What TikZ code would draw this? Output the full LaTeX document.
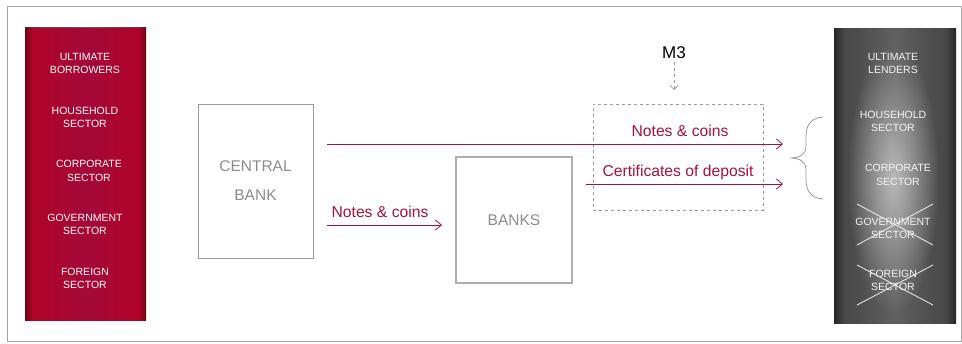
\documentclass[tikz,border=0pt]{standalone}
\usepackage{fontspec}
\setmainfont{Liberation Sans}
\usetikzlibrary{arrows.meta,fadings}
\definecolor{frameGray}{HTML}{A6A6A6}
\definecolor{boxGray}{HTML}{9A9A9A}
\definecolor{boxText}{HTML}{8C8C8C}
\definecolor{crim}{HTML}{A4123C}
\definecolor{rEdge}{HTML}{6E0516}
\definecolor{rMain}{HTML}{B00328}
\definecolor{rMid}{HTML}{A40838}
\definecolor{gEdge}{HTML}{262626}
\definecolor{gMain}{HTML}{474747}
\definecolor{gMid}{HTML}{606060}
\tikzfading[name=myfadeout, inner color=transparent!0, outer color=transparent!100]
\pgfdeclarehorizontalshading{redpanel}{100bp}{color(0bp)=(rEdge); color(25bp)=(rEdge); color(28bp)=(rMain); color(50bp)=(rMid); color(72bp)=(rMain); color(75bp)=(rEdge); color(100bp)=(rEdge)}
\pgfdeclarehorizontalshading{graypanel}{100bp}{color(0bp)=(gEdge); color(25bp)=(gEdge); color(29bp)=(gMain); color(50bp)=(gMid); color(71bp)=(gMain); color(75bp)=(gEdge); color(100bp)=(gEdge)}
\tikzset{
  paneltext/.style={text=white, align=center, font=\fontsize{10.5}{13.5}\selectfont, inner sep=0pt},
  lpaneltext/.style={text=white!92!gray, align=center, font=\fontsize{10.5}{13.5}\selectfont, inner sep=0pt},
  bankbox/.style={draw=boxGray, line width=0.9pt, text=boxText, align=center, font=\fontsize{15.5}{29}\selectfont},
  flowlbl/.style={text=crim, font=\fontsize{15.7}{18}\selectfont, inner sep=0pt},
  flow/.style={draw=crim, line width=0.8pt, -{Straight Barb[length=6pt,width=10pt]}},
  crossline/.style={draw=white!88!gray, line width=0.8pt},
}
\begin{document}
\begin{tikzpicture}[x=1pt,y=-1pt]
\useasboundingbox (0,0) rectangle (962,343);
% outer frame
\draw[frameGray, line width=0.9pt] (7,6) rectangle (961,341);

% left red panel
\shade[shading=graypanel] (25,27) rectangle (146,29);
\shade[shading=redpanel] (25,28) rectangle (146,320);
\node[paneltext] (ub) at (85,63.5) {ULTIMATE\\BORROWERS};
\node[paneltext] (bh) at (85,117.5) {HOUSEHOLD\\SECTOR};
\node[paneltext] (bc) at (89,171) {CORPORATE\\SECTOR};
\node[paneltext] (bg) at (85,224.5) {GOVERNMENT\\SECTOR};
\node[paneltext] (bf) at (85,278.5) {FOREIGN\\SECTOR};

% right gray panel
\shade[shading=graypanel] (834,28) rectangle (956,323);
\begin{scope}
\clip (834,28) rectangle (956,323);
\fill[white!45!gray, path fading=myfadeout] (893,178) ellipse (46 and 135);
\end{scope}
\node[lpaneltext] (ul) at (893,63.5) {ULTIMATE\\LENDERS};
\node[lpaneltext] (lh) at (893,121.5) {HOUSEHOLD\\SECTOR};
\node[lpaneltext] (lc) at (898,175) {CORPORATE\\SECTOR};
\node[lpaneltext] (lg) at (893,228.5) {GOVERNMENT\\SECTOR};
\node[lpaneltext] (lf) at (893,280.5) {FOREIGN\\SECTOR};
\draw[crossline] (857,204) -- (933,245);
\draw[crossline] (857,245) -- (933,204);
\draw[crossline] (857,265) -- (933,305);
\draw[crossline] (857,305) -- (933,265);

% boxes
\node[bankbox, minimum width=115pt, minimum height=154pt] (cb) at (255.5,181) {CENTRAL\\BANK};
\node[bankbox, draw=boxGray!80, line width=1.2pt, minimum width=116pt, minimum height=126pt] (banks) at (514,220) {BANKS};
\node[draw=boxGray, dashed, line width=0.8pt, minimum width=170pt, minimum height=106pt, inner sep=0pt] (m3box) at (678,157) {};

% M3
\node[font=\fontsize{17}{19}\selectfont, inner sep=0pt] (m3) at (674,53) {M3};
\coordinate (m3tip) at (674,90);
\draw[boxGray, dashed, line width=0.8pt, -{Straight Barb[length=4pt,width=8pt]}] (m3.south) ++(0,3) -- (m3tip);

% flows
\coordinate (a1s) at (327,144);
\coordinate (a1e) at (783,144);
\coordinate (a2s) at (586,184);
\coordinate (a2e) at (783,184);
\coordinate (a3s) at (327,225);
\coordinate (a3e) at (442,225);
\draw[flow] (a1s) -- (a1e);
\draw[flow] (a2s) -- (a2e);
\draw[flow] (a3s) -- (a3e);
\node[flowlbl] (l1) at (680,131) {Notes \& coins};
\node[flowlbl] (l2) at (678,172) {Certificates of deposit};
\node[flowlbl] (l3) at (380,212) {Notes \& coins};

% brace
\draw[boxGray, line width=0.8pt] (823,117) .. controls (810,118) and (806,126) .. (806,137) -- (806,147) .. controls (806,154) and (800,158) .. (790,158) .. controls (800,158) and (806,162) .. (806,169) -- (806,179) .. controls (806,190) and (810,198) .. (823,199);
\end{tikzpicture}
\end{document}
